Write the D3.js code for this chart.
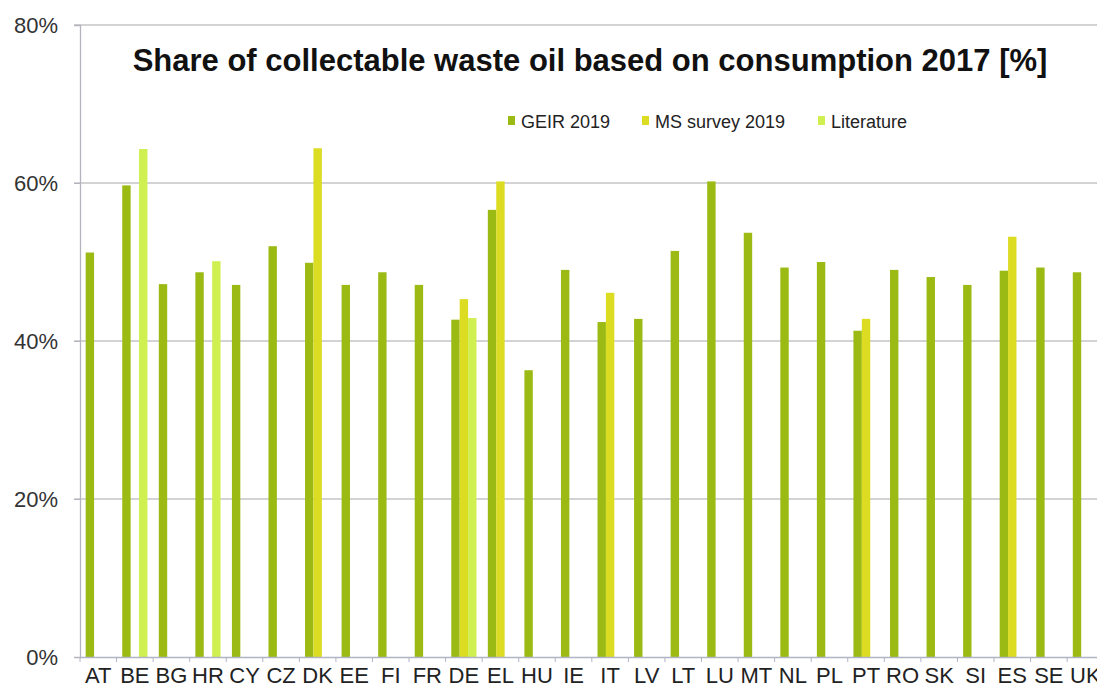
<!DOCTYPE html>
<html>
<head>
<meta charset="utf-8">
<script src="https://cdn.jsdelivr.net/npm/d3@7"></script>
<style>
  html, body { margin: 0; padding: 0; background: #fff; }
  svg { display: block; font-family: Arial, "Liberation Sans", sans-serif; }
</style>
</head>
<body>
<svg id="chart" width="1097" height="693"></svg>
<script>
// Member-state codes along the x axis
const countries = ["AT","BE","BG","HR","CY","CZ","DK","EE","FI","FR","DE","EL","HU","IE",
                   "IT","LV","LT","LU","MT","NL","PL","PT","RO","SK","SI","ES","SE","UK"];

// Share of collectable waste oil (%), one value per country; null = no figure
const geir2019 = [51.2,59.7,47.2,48.7,47.1,52.0,49.9,47.1,48.7,47.1,42.7,56.6,36.3,49.0,
                  42.4,42.8,51.4,60.2,53.7,49.3,50.0,41.3,49.0,48.1,47.1,48.9,49.3,48.7];
const msSurvey2019 = [null,null,null,null,null,null,64.4,null,null,null,45.3,60.2,null,null,
                      46.1,null,null,null,null,null,null,42.8,null,null,null,53.2,null,null];
const literature = [null,64.3,null,50.1,null,null,null,null,null,null,42.9,null,null,null,
                    null,null,null,null,null,null,null,null,null,null,null,null,null,null];

const seriesNames = ["GEIR 2019","MS survey 2019","Literature"];
const seriesValues = [geir2019, msSurvey2019, literature];
const seriesColors = ["#9bbb14","#dcdc22","#d0ef50"];
const yTicks = [0,20,40,60,80];

const svg = d3.select("#chart");
const plotLeft = 80, plotTop = 25, plotBottom = 657, step = 36.56;

const x = d3.scaleBand().domain(countries).range([plotLeft, plotLeft + step * countries.length]).padding(0);
const x1 = d3.scaleBand().domain(seriesNames).range([0, x.bandwidth()])
  .paddingInner(0).paddingOuter(0.676);
const y = d3.scaleLinear().domain([0, 80]).range([plotBottom, plotTop]);

// horizontal gridlines
svg.append("g")
  .selectAll("line").data(yTicks.filter(d => d > 0)).join("line")
  .attr("x1", plotLeft - 6).attr("x2", 1097)
  .attr("y1", d => y(d)).attr("y2", d => y(d))
  .attr("stroke", "#c4c4c8").attr("stroke-width", 1.3);

// y axis
const yAxis = svg.append("g").attr("transform", `translate(${plotLeft},0)`)
  .call(d3.axisLeft(y).tickValues(yTicks).tickFormat(d => d + "%").tickSize(6).tickPadding(16));
yAxis.select(".domain").attr("stroke", "#b4b4c0").attr("stroke-width", 1.3);
yAxis.selectAll(".tick line").attr("stroke", "#b4b4c0");
yAxis.selectAll(".tick text").attr("font-size", 22).attr("fill", "#333")
  .attr("font-family", "Arial, 'Liberation Sans', sans-serif");

// bars
const groups = svg.append("g").selectAll("g").data(countries).join("g")
  .attr("transform", d => `translate(${x(d)},0)`);
groups.selectAll("rect")
  .data((c, i) => seriesNames.map((s, k) => ({ s, k, v: seriesValues[k][i] })).filter(d => d.v != null))
  .join("rect")
  .attr("x", d => x1(d.s))
  .attr("width", x1.bandwidth())
  .attr("y", d => y(d.v))
  .attr("height", d => y(0) - y(d.v))
  .attr("fill", d => seriesColors[d.k]);

// x axis
const xAxis = svg.append("g").attr("transform", `translate(0,${plotBottom})`)
  .call(d3.axisBottom(x).tickSize(0).tickPadding(10));
xAxis.select(".domain").attr("stroke", "#b0b4c4").attr("stroke-width", 1.3);
xAxis.selectAll(".tick text").attr("font-size", 22).attr("fill", "#222")
  .attr("font-family", "Arial, 'Liberation Sans', sans-serif");
// tick marks at band boundaries
svg.append("g").selectAll("line").data(countries).join("line")
  .attr("x1", d => x(d)).attr("x2", d => x(d))
  .attr("y1", plotBottom).attr("y2", plotBottom + 5)
  .attr("stroke", "#b0b4c4");

// title
svg.append("text")
  .attr("x", 590).attr("y", 71)
  .attr("text-anchor", "middle")
  .attr("font-size", 31).attr("font-weight", "bold").attr("fill", "#111")
  .text("Share of collectable waste oil based on consumption 2017 [%]");

// legend
const legendX = [508, 642, 818];
const legend = svg.append("g").selectAll("g").data(seriesNames).join("g")
  .attr("transform", (d, i) => `translate(${legendX[i]},0)`);
legend.append("rect").attr("x", 0).attr("y", 116).attr("width", 7).attr("height", 9)
  .attr("fill", (d, i) => seriesColors[i]);
legend.append("text").attr("x", 13).attr("y", 128)
  .attr("font-size", 18).attr("fill", "#222").text(d => d);
</script>
</body>
</html>
